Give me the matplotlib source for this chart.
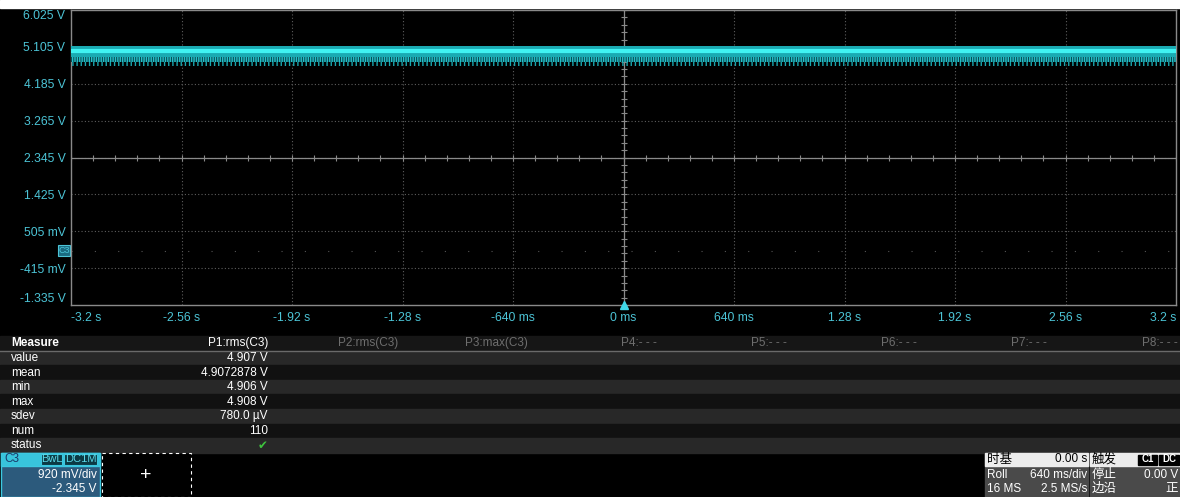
import matplotlib
matplotlib.use("Agg")
import matplotlib.pyplot as plt
from matplotlib.patches import Rectangle
import numpy as np

plt.rcParams['font.family'] = ['Liberation Sans', 'Noto Sans CJK SC', 'DejaVu Sans']

# --- axis data ---
y_ticks = [6.025, 5.105, 4.185, 3.265, 2.345, 1.425, 0.505, -0.415, -1.335]
y_labels = ['6.025 V', '5.105 V', '4.185 V', '3.265 V', '2.345 V', '1.425 V',
            '505 mV', '-415 mV', '-1.335 V']
x_ticks = [-3.2, -2.56, -1.92, -1.28, -0.64, 0.0, 0.64, 1.28, 1.92, 2.56, 3.2]
x_labels = ['-3.2 s', '-2.56 s', '-1.92 s', '-1.28 s', '-640 ms', '0 ms',
            '640 ms', '1.28 s', '1.92 s', '2.56 s', '3.2 s']

# --- trace (C3, roll mode, ~5 V with ripple spikes) ---
trace_t = [-3.2, 3.2]
band_hi = [5.13, 5.13]
band_lo = [4.84, 4.84]
core_v = [4.99, 4.99]
spike_mid = [4.74, 4.74]
spike_lo = [4.64, 4.64]
ground_v = 0.0

# --- measurement table ---
measure_rows = ['value', 'mean', 'min', 'max', 'sdev', 'num', 'status']
p1_values = ['4.907 V', '4.9072878 V', '4.906 V', '4.908 V', '780.0 µV', '110', '✔']
param_headers = ['P1:rms(C3)', 'P2:rms(C3)', 'P3:max(C3)', 'P4:- - -',
                 'P5:- - -', 'P6:- - -', 'P7:- - -', 'P8:- - -']

W, H = 1180, 497
fig = plt.figure(figsize=(W / 100, H / 100), dpi=100, facecolor='black')

# overlay axes in pixel coordinates for the panels
bg = fig.add_axes([0, 0, 1, 1], zorder=0)
bg.set_xlim(0, W)
bg.set_ylim(H, 0)
bg.axis('off')
bg.add_patch(Rectangle((0, 0), W, H, color='black'))
bg.add_patch(Rectangle((0, 0), W, 8, color='white'))

cyan_txt = '#4cc4d6'

# plot area
L, R, T, B = 71, 1176, 10, 305
ax = fig.add_axes([L / W, 1 - B / H, (R - L) / W, (B - T) / H], zorder=2)
ax.set_facecolor('black')
ax.set_xlim(-3.2, 3.2)
ax.set_ylim(-1.335, 6.025)
for s in ax.spines.values():
    s.set_color('#8a8a8a')
    s.set_linewidth(1)

for yv in y_ticks[1:-1]:
    ax.axhline(yv, color='#5e5e5e', lw=0.8, ls=(0, (1, 2)), zorder=1)
for xv in x_ticks[1:-1]:
    ax.axvline(xv, color='#5e5e5e', lw=0.8, ls=(0, (1, 2)), zorder=1)

# centre crosshair with minor ticks
ax.axhline(2.345, color='#8a8a8a', lw=0.9, zorder=2)
ax.axvline(0.0, color='#8a8a8a', lw=0.9, zorder=2)
mx = np.arange(-3.2, 3.2001, 0.128)
my = np.arange(-1.335, 6.0251, 0.184)
ax.plot(mx, np.full_like(mx, 2.345), ls='none', marker='|', ms=5,
        color='#8a8a8a', mew=0.8, zorder=2)
ax.plot(np.zeros_like(my), my, ls='none', marker='_', ms=5,
        color='#8a8a8a', mew=0.8, zorder=2)

# faint ground marker line
ax.axhline(ground_v, color='#555555', lw=0.8, ls=(0, (1, 20)), zorder=1)

# trace: spikes below the band, then band and bright core
ax.fill_between(trace_t, spike_lo, band_lo, facecolor='none',
                edgecolor='#1aa6ae', hatch='||||', linewidth=0, zorder=3)
ax.fill_between(trace_t, spike_mid, band_lo, facecolor='#07424a',
                edgecolor='#26c0c8', hatch='|||||||', linewidth=0, zorder=3.5)
ax.fill_between(trace_t, band_lo, band_hi, color='#1aaab2', linewidth=0, zorder=4)
ax.plot(trace_t, core_v, color='#40f2f2', lw=3, zorder=5)

# trigger position marker
ax.plot([0], [-1.335], marker='^', ms=6, color='#3fd8e8', clip_on=False, zorder=6)

ax.set_yticks(y_ticks)
ax.set_yticklabels(y_labels)
ax.set_xticks(x_ticks)
ax.set_xticklabels(x_labels)
ax.tick_params(colors=cyan_txt, length=0, labelsize=8.7, pad=4)
ax.tick_params(axis='x', pad=5)
yl = ax.get_yticklabels()
yl[0].set_va('top')
yl[-1].set_va('bottom')
xl = ax.get_xticklabels()
xl[0].set_ha('left')
xl[-1].set_ha('right')

# C3 channel marker
bg.add_patch(Rectangle((58, 245), 12, 11, facecolor='#1a6a80', edgecolor=cyan_txt, lw=0.8))
bg.text(64, 250.5, 'C3', color=cyan_txt, fontsize=6.5, ha='center', va='center')

# measurement table
fs = 8.5
row_h = 14.6
top = 336
bg.add_patch(Rectangle((0, top), W, row_h, color='#161616'))
bg.plot([0, W], [top + row_h, top + row_h], color='#6a6a6a', lw=1)
bg.text(11, top + row_h / 2, 'Measure', color='white', fontsize=fs,
        fontweight='bold', va='center')
col_right = [268, 398, 528, 657, 787, 917, 1047, 1178]
for i, (hdr, xr) in enumerate(zip(param_headers, col_right)):
    bg.text(xr, top + row_h / 2, hdr, color='white' if i == 0 else '#6e6e6e',
            fontsize=fs, ha='right', va='center')

for i, (name, val) in enumerate(zip(measure_rows, p1_values)):
    y0 = top + row_h * (i + 1)
    bg.add_patch(Rectangle((0, y0), W, row_h,
                           color='#282828' if i % 2 == 0 else '#111111'))
    bg.text(11, y0 + row_h / 2, name, color='white', fontsize=fs, va='center')
    if val == '✔':
        bg.text(268, y0 + row_h / 2, val, color='#3ec43e', fontsize=fs,
                ha='right', va='center', family=['DejaVu Sans'])
    else:
        bg.text(268, y0 + row_h / 2, val, color='white', fontsize=fs,
                ha='right', va='center')

# channel box
bg.add_patch(Rectangle((0.5, 453), 99.5, 44, facecolor='#2c5a7c', edgecolor='#3cc8e0', lw=1))
bg.add_patch(Rectangle((0.5, 453), 99.5, 13, facecolor='#38c4dc', edgecolor='#3cc8e0', lw=1))
bg.text(4, 459.5, 'C3', color='#1a3a6a', fontsize=fs, va='center')
bg.add_patch(Rectangle((41, 454), 21, 11, facecolor='#0c3a44', edgecolor='#3cc8e0', lw=0.8))
bg.text(51.5, 459.5, 'BwL', color='#5ad8e8', fontsize=8, ha='center', va='center')
bg.add_patch(Rectangle((64, 454), 33, 11, facecolor='#0c3a44', edgecolor='#3cc8e0', lw=0.8))
bg.text(80.5, 459.5, 'DC1M', color='#5ad8e8', fontsize=8, ha='center', va='center')
bg.text(97, 475, '920 mV/div', color='white', fontsize=fs, ha='right', va='center')
bg.text(97, 489, '-2.345 V', color='white', fontsize=fs, ha='right', va='center')

# add-channel dashed box
bg.add_patch(Rectangle((102, 453), 89, 44, facecolor='black', edgecolor='white',
                       lw=0.8, ls=(0, (3, 3))))
bg.text(146, 475, '+', color='white', fontsize=14, ha='center', va='center')

# timebase box
bg.add_patch(Rectangle((985, 453), 103, 44, color='#4a4a4a'))
bg.add_patch(Rectangle((985, 453), 103, 13, color='#ececec'))
bg.text(987, 459.5, '时基', color='black', fontsize=9, va='center')
bg.text(1087, 459.5, '0.00 s', color='black', fontsize=fs, ha='right', va='center')
bg.text(987, 475, 'Roll', color='white', fontsize=fs, va='center')
bg.text(1087, 475, '640 ms/div', color='white', fontsize=fs, ha='right', va='center')
bg.text(987, 489, '16 MS', color='white', fontsize=fs, va='center')
bg.text(1087, 489, '2.5 MS/s', color='white', fontsize=fs, ha='right', va='center')

# trigger box
bg.add_patch(Rectangle((1090, 453), 90, 44, color='#4a4a4a'))
bg.add_patch(Rectangle((1090, 453), 90, 13, color='#ececec'))
bg.text(1092, 459.5, '触发', color='black', fontsize=9, va='center')
bg.add_patch(Rectangle((1138, 454.5), 19, 10, color='black'))
bg.text(1147.5, 459.5, 'C1', color='white', fontsize=7, ha='center', va='center',
        fontweight='bold')
bg.add_patch(Rectangle((1159, 454.5), 20, 10, color='black'))
bg.text(1169, 459.5, 'DC', color='white', fontsize=7, ha='center', va='center',
        fontweight='bold')
bg.text(1092, 475, '停止', color='white', fontsize=9, va='center')
bg.text(1178, 475, '0.00 V', color='white', fontsize=fs, ha='right', va='center')
bg.text(1092, 489, '边沿', color='white', fontsize=9, va='center')
bg.text(1178, 489, '正', color='white', fontsize=9, ha='right', va='center')

fig.savefig('out.png', dpi=100, facecolor='black')
